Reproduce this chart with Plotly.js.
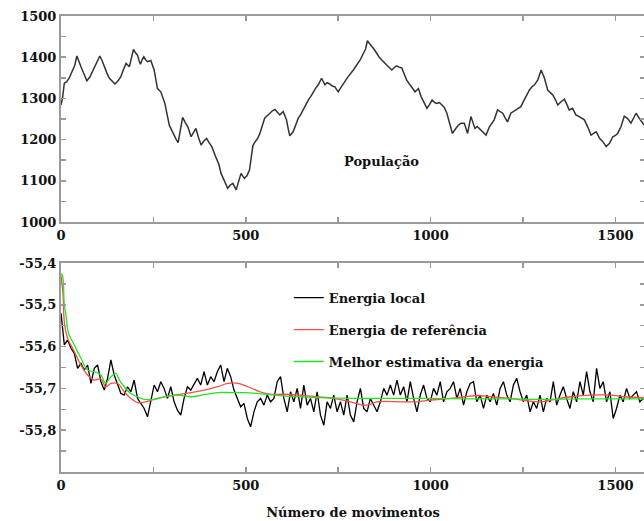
<!DOCTYPE html>
<html>
<head>
<meta charset="utf-8">
<script src="https://cdn.plot.ly/plotly-3.0.1.min.js"></script>
<style>
html,body{margin:0;padding:0;overflow:hidden;background:#fff;}
#chart{width:660px;height:521px;}
</style>
</head>
<body>
<div id="chart"></div>
<script>
// ---------- Population (top panel) ----------
const popMoves = [0,4,9,15,22,31,37,43,48,54,62,70,78,85,95,105,111,117,124,131,139,146,154,162,169,176,185,190,196,202,207,211,215,220,224,229,234,243,252,261,270,281,287,293,300,307,312,317,323,329,336,343,352,358,365,372,379,386,394,401,408,420,427,433,442,451,458,465,474,480,487,496,503,510,515,519,524,532,538,545,551,558,565,572,579,586,592,601,610,615,619,628,635,642,648,655,662,669,676,682,689,696,705,714,720,727,734,741,750,757,764,771,777,784,791,800,809,818,824,829,835,841,848,854,861,868,875,881,888,895,902,908,915,922,929,935,944,951,958,967,974,981,990,997,1004,1011,1017,1024,1031,1037,1044,1053,1059,1068,1075,1082,1091,1100,1109,1115,1120,1126,1132,1138,1143,1150,1159,1165,1172,1181,1188,1195,1202,1208,1217,1224,1231,1238,1244,1253,1260,1267,1274,1281,1290,1299,1308,1317,1324,1331,1338,1344,1353,1362,1369,1375,1384,1393,1402,1409,1416,1425,1434,1441,1448,1457,1466,1475,1484,1493,1500,1506,1515,1524,1533,1542,1549,1556,1565,1574,1578];
const population = [1284,1300,1337,1340,1349,1369,1380,1403,1390,1377,1360,1343,1352,1365,1385,1403,1392,1377,1362,1349,1340,1335,1342,1353,1370,1385,1377,1398,1419,1410,1405,1392,1383,1395,1401,1394,1389,1392,1369,1324,1316,1288,1262,1235,1222,1207,1200,1193,1225,1254,1242,1231,1207,1218,1227,1205,1187,1196,1203,1192,1183,1155,1140,1118,1100,1082,1090,1094,1078,1100,1118,1106,1112,1126,1160,1185,1193,1203,1215,1235,1252,1258,1264,1270,1273,1265,1260,1268,1248,1225,1209,1219,1235,1252,1260,1272,1285,1296,1305,1316,1325,1333,1349,1333,1338,1335,1330,1328,1316,1326,1337,1345,1353,1360,1369,1381,1393,1409,1420,1440,1432,1426,1418,1409,1400,1393,1385,1381,1375,1369,1375,1379,1376,1374,1358,1345,1333,1325,1316,1324,1305,1292,1276,1285,1296,1290,1288,1290,1284,1278,1264,1235,1215,1227,1235,1240,1240,1215,1256,1240,1227,1232,1227,1222,1219,1211,1231,1240,1248,1272,1268,1264,1252,1243,1264,1268,1272,1278,1280,1296,1308,1320,1328,1333,1345,1369,1349,1320,1314,1308,1296,1284,1292,1298,1285,1272,1276,1260,1256,1252,1248,1231,1211,1215,1219,1203,1195,1183,1191,1207,1210,1215,1231,1257,1251,1240,1252,1264,1251,1240,1235];

// ---------- Energies (bottom panel) ----------
const localStart = 0;
const localStep = 9;
const localEnergy = [
-55.520,-55.596,-55.584,-55.604,-55.616,-55.652,-55.640,-55.656,-55.644,-55.688,
-55.652,-55.644,-55.684,-55.704,-55.676,-55.632,-55.668,-55.692,-55.712,-55.716,
-55.696,-55.708,-55.680,-55.724,-55.736,-55.748,-55.768,-55.732,-55.692,-55.708,
-55.684,-55.700,-55.724,-55.696,-55.732,-55.752,-55.764,-55.724,-55.696,-55.704,
-55.688,-55.676,-55.692,-55.660,-55.692,-55.672,-55.684,-55.660,-55.644,-55.684,
-55.652,-55.672,-55.704,-55.724,-55.744,-55.736,-55.772,-55.792,-55.756,-55.732,
-55.724,-55.740,-55.716,-55.732,-55.724,-55.684,-55.672,-55.724,-55.756,-55.708,
-55.732,-55.700,-55.748,-55.692,-55.740,-55.724,-55.756,-55.708,-55.764,-55.788,
-55.732,-55.748,-55.716,-55.756,-55.732,-55.764,-55.716,-55.764,-55.780,-55.732,
-55.700,-55.748,-55.756,-55.724,-55.740,-55.756,-55.732,-55.700,-55.716,-55.692,
-55.716,-55.680,-55.716,-55.696,-55.732,-55.684,-55.724,-55.756,-55.716,-55.692,
-55.724,-55.732,-55.700,-55.716,-55.684,-55.732,-55.708,
-55.700,-55.684,-55.724,-55.700,-55.740,-55.708,-55.688,-55.684,-55.732,-55.716,
-55.748,-55.716,-55.732,-55.712,-55.740,-55.700,-55.684,-55.716,-55.732,-55.692,
-55.676,-55.708,-55.732,-55.716,-55.756,-55.732,-55.748,-55.716,-55.756,-55.724,
-55.732,-55.684,-55.740,-55.716,-55.696,-55.724,-55.748,-55.708,-55.732,-55.684,
-55.716,-55.660,-55.708,-55.732,-55.652,-55.700,-55.684,-55.732,-55.708,-55.772,
-55.748,-55.716,-55.732,-55.700,-55.724,-55.716,-55.708,-55.732,-55.724];

const refMoves = [0,5,10,18,36,54,72,90,108,121,135,153,171,189,207,225,252,280,316,352,388,424,451,479,506,538,565,601,646,691,737,782,818,836,854,926,963,999,1053,1091,1127,1163,1217,1262,1299,1335,1380,1434,1488,1524,1578];
const refEnergy = [-55.43,-55.47,-55.55,-55.58,-55.612,-55.644,-55.668,-55.68,-55.677,-55.696,-55.688,-55.688,-55.708,-55.724,-55.734,-55.733,-55.726,-55.72,-55.715,-55.71,-55.704,-55.696,-55.688,-55.688,-55.696,-55.708,-55.714,-55.714,-55.716,-55.72,-55.724,-55.732,-55.74,-55.738,-55.732,-55.732,-55.732,-55.728,-55.724,-55.72,-55.717,-55.72,-55.724,-55.73,-55.732,-55.726,-55.72,-55.716,-55.716,-55.72,-55.722];

const bestMoves = [0,4,9,13,18,22,36,54,72,90,108,121,135,149,158,171,189,207,225,252,280,316,352,388,424,460,496,532,600,700,800,900,1000,1100,1200,1300,1400,1500,1580];
const bestEnergy = [-55.425,-55.43,-55.50,-55.52,-55.56,-55.572,-55.596,-55.628,-55.656,-55.66,-55.668,-55.688,-55.672,-55.664,-55.68,-55.696,-55.712,-55.72,-55.726,-55.726,-55.72,-55.716,-55.72,-55.715,-55.71,-55.71,-55.71,-55.712,-55.718,-55.722,-55.724,-55.724,-55.724,-55.725,-55.725,-55.726,-55.725,-55.725,-55.725];

const xTicks = [0,500,1000,1500];
const popTicks = [1000,1100,1200,1300,1400,1500];
const energyTicks = [-55.4,-55.5,-55.6,-55.7,-55.8];
const energyTickText = ['-55,4','-55,5','-55,6','-55,7','-55,8'];
const seriesNames = ['Energia local','Energia de referência','Melhor estimativa da energia'];

const FONT = 'DejaVu Serif';
const AX = '#9a9a9a';
const TXT = '#111';

const traces = [
  {x: popMoves, y: population, xaxis:'x', yaxis:'y', mode:'lines',
   line:{color:'#333', width:1.5}, showlegend:false, hoverinfo:'skip'},
  {y: localEnergy, x0: localStart, dx: localStep, xaxis:'x2', yaxis:'y2', mode:'lines',
   name: seriesNames[0], legendgroup:'a', line:{color:'#000', width:1.3}},
  {x: refMoves, y: refEnergy, xaxis:'x2', yaxis:'y2', mode:'lines',
   name: seriesNames[1], legendgroup:'b', line:{color:'#ff4a4a', width:1.3, shape:'spline'}},
  {x: bestMoves, y: bestEnergy, xaxis:'x2', yaxis:'y2', mode:'lines',
   name: seriesNames[2], legendgroup:'c', line:{color:'#22e622', width:1.3, shape:'spline'}}
];

function xAxis(){
  return {
    range:[0,1580], tickvals: xTicks, ticks:'inside', ticklen:5, tickwidth:1.5,
    tickcolor:AX, showline:true, linecolor:AX, linewidth:2, mirror:'ticks', showgrid:false, zeroline:false,
    minor:{ticks:'inside', ticklen:5, dtick:250, tick0:0, tickcolor:AX, showgrid:false},
    tickfont:{family:FONT, size:13, color:TXT, weight:'bold'}
  };
}

const layout = {
  width:660, height:521,
  margin:{l:61, r:15, t:16, b:49},
  paper_bgcolor:'#fff', plot_bgcolor:'#fff',
  showlegend:true,
  legend:{x:0.39, xanchor:'left', y:0.415, yanchor:'top', traceorder:'grouped', tracegroupgap:12,
          bgcolor:'rgba(0,0,0,0)', font:{family:FONT, size:13, color:TXT, weight:'bold'}},
  xaxis: Object.assign(xAxis(), {anchor:'y'}),
  yaxis: {domain:[0.5482,1], range:[1000,1500], tickvals:popTicks, ticks:'inside', ticklen:5, tickwidth:1.5,
          tickcolor:AX, showline:true, linecolor:AX, linewidth:2, mirror:'ticks', showgrid:false, zeroline:false,
          minor:{ticks:'inside', ticklen:5, dtick:50, tick0:1000, tickcolor:AX},
          tickfont:{family:FONT, size:13, color:TXT, weight:'bold'}},
  xaxis2: Object.assign(xAxis(), {anchor:'y2',
          title:{text:'Número de movimentos', standoff:16, font:{family:FONT, size:13, color:TXT, weight:'bold'}}}),
  yaxis2: {domain:[0,0.4583], range:[-55.9,-55.4], tickvals:energyTicks, ticktext:energyTickText, ticks:'inside', ticklen:5, tickwidth:1.5,
          tickcolor:AX, showline:true, linecolor:AX, linewidth:2, mirror:'ticks', showgrid:false, zeroline:false,
          minor:{ticks:'inside', ticklen:5, dtick:0.05, tick0:-55.9, tickcolor:AX},
          tickfont:{family:FONT, size:13, color:TXT, weight:'bold'}},
  annotations:[{text:'População', xref:'x', yref:'y', x:868, y:1148, showarrow:false,
                font:{family:FONT, size:13, color:TXT, weight:'bold'}}]
};

Plotly.newPlot('chart', traces, layout, {displayModeBar:false, staticPlot:true});
</script>
</body>
</html>
